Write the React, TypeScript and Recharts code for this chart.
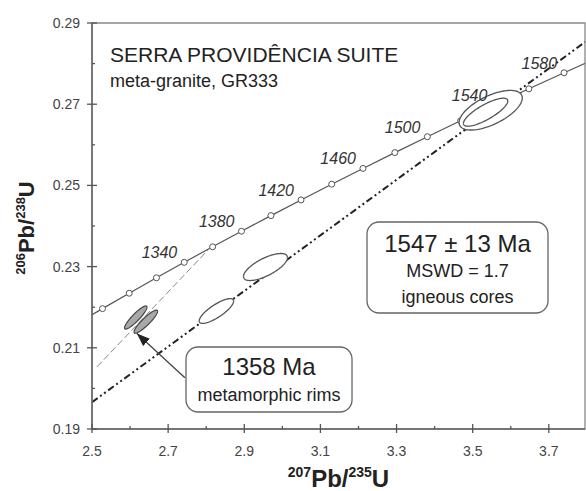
// @ts-nocheck
import React from 'react'
import { ComposedChart, Line, Area, XAxis, YAxis, ReferenceArea, LabelList } from 'recharts'

const FONT = '"Liberation Sans", Arial, Helvetica, sans-serif'
const INK = '#222'
const GREY = '#555'

// concordia points, every 20 Ma
const concordiaAge = [1260, 1280, 1300, 1320, 1340, 1360, 1380, 1400, 1420, 1440, 1460, 1480, 1500, 1520, 1540, 1560, 1580, 1600]
const concordiaX = [2.45876, 2.52757, 2.59774, 2.6693, 2.74229, 2.81674, 2.89266, 2.9701, 3.04907, 3.12961, 3.21176, 3.29554, 3.38099, 3.46814, 3.55702, 3.64767, 3.74012, 3.83441]
const concordiaY = [0.21587, 0.21965, 0.22344, 0.22724, 0.23105, 0.23488, 0.23871, 0.24256, 0.24642, 0.2503, 0.25418, 0.25808, 0.26199, 0.26591, 0.26984, 0.27379, 0.27775, 0.28172]
const labelledAges = [1340, 1380, 1420, 1460, 1500, 1540, 1580]

// discordia lines
const coresLineX = [2.5, 3.795]
const coresLineY = [0.1966, 0.2853]
const rimsLineX = [2.513, 2.809]
const rimsLineY = [0.2053, 0.2345]
const arrowX = [2.744, 2.618]
const arrowY = [0.2026, 0.2135]

// error ellipses: centre, half x-extent, half y-extent, correlation
const coreEllipses = [
  { cx: 3.5473, cy: 0.26852, w: 0.083, h: 0.00488, rho: 0.62 },
  { cx: 3.5339, cy: 0.26803, w: 0.0583, h: 0.00345, rho: 0.8 },
  { cx: 2.9557, cy: 0.2299, w: 0.0578, h: 0.00333, rho: 0.7 },
  { cx: 2.8268, cy: 0.21906, w: 0.0452, h: 0.00305, rho: 0.8 },
]
const rimEllipses = [
  { cx: 2.615, cy: 0.21746, w: 0.0295, h: 0.00285, rho: 0.9 },
  { cx: 2.6413, cy: 0.21643, w: 0.031, h: 0.00285, rho: 0.9 },
]

const xMajorTicks = [2.5, 2.7, 2.9, 3.1, 3.3, 3.5, 3.7]
const xMinorTicks = [2.6, 2.8, 3.0, 3.2, 3.4, 3.6]
const yMajorTicks = [0.19, 0.21, 0.23, 0.25, 0.27, 0.29]
const yMinorTicks = [0.2, 0.22, 0.24, 0.26, 0.28]

const concordiaRows = concordiaAge.map((age, i) => ({
  x: concordiaX[i],
  y: concordiaY[i],
  label: labelledAges.includes(age) ? String(age) : '',
}))
const toRows = (xs, ys) => xs.map((x, i) => ({ x, y: ys[i] }))

// outline of an ellipse as a band (low/high) over x
function ellipseRows(e, n = 60) {
  const rows = []
  for (let i = 0; i <= n; i++) {
    const t = Math.cos(Math.PI * (1 - i / n))
    const mid = e.cy + e.rho * e.h * t
    const half = e.h * Math.sqrt(1 - e.rho * e.rho) * Math.sqrt(Math.max(0, 1 - t * t))
    rows.push({ x: e.cx + e.w * t, band: [mid - half, mid + half] })
  }
  return rows
}

const XTick = ({ x, y, payload }) => {
  const major = xMajorTicks.includes(payload.value)
  return (
    <g>
      <line x1={x} x2={x} y1={major ? y - 5 : y - 3} y2={major ? y + 4 : y} stroke={GREY} strokeWidth={1.3} />
      {major && (
        <text x={x} y={y + 27} textAnchor="middle" fontSize={14} fill="#444" fontFamily={FONT}>
          {payload.value.toFixed(1)}
        </text>
      )}
    </g>
  )
}

const YTick = ({ x, y, payload }) => {
  const major = yMajorTicks.includes(payload.value)
  return (
    <g>
      <line x1={major ? x - 5 : x} x2={major ? x + 5 : x + 3} y1={y} y2={y} stroke={GREY} strokeWidth={1.3} />
      {major && (
        <text x={x - 12} y={y + 5} textAnchor="end" fontSize={14} fill="#444" fontFamily={FONT}>
          {payload.value.toFixed(2)}
        </text>
      )}
    </g>
  )
}

const XTitle = ({ viewBox }) => {
  const cx = viewBox.x + viewBox.width / 2
  const by = viewBox.y + 58
  return (
    <text x={cx} y={by} textAnchor="middle" fontWeight="bold" fill={INK} fontFamily={FONT}>
      <tspan fontSize={14} dy={-10}>207</tspan>
      <tspan fontSize={24} dy={10}>Pb/</tspan>
      <tspan fontSize={14} dy={-10}>235</tspan>
      <tspan fontSize={24} dy={10}>U</tspan>
    </text>
  )
}

const YTitle = ({ viewBox }) => {
  const bx = viewBox.x + 34
  const cy = viewBox.y + viewBox.height / 2 + 2
  return (
    <text x={bx} y={cy} transform={`rotate(-90, ${bx}, ${cy})`} textAnchor="middle" fontWeight="bold" fill={INK} fontFamily={FONT}>
      <tspan fontSize={13} dy={-9}>206</tspan>
      <tspan fontSize={22} dy={9}>Pb/</tspan>
      <tspan fontSize={13} dy={-9}>238</tspan>
      <tspan fontSize={22} dy={9}>U</tspan>
    </text>
  )
}

const AgeLabel = ({ x, y, value }) => {
  if (!value) return null
  return (
    <text x={x - 7} y={y - 4} textAnchor="end" fontSize={16} fontStyle="italic" fill="#333" fontFamily={FONT}>
      {value}
    </text>
  )
}

const makeBox = (lines) => (p) => (
  <g>
    <rect x={p.x} y={p.y} width={p.width} height={p.height} rx={12} ry={12} fill="#fff" stroke="#666" strokeWidth={1.3} />
    {lines.map((l, i) => (
      <text key={i} x={p.x + p.width / 2} y={p.y + l.dy} textAnchor="middle" fontSize={l.size} fill={INK} fontFamily={FONT}>
        {l.text}
      </text>
    ))}
  </g>
)

const coresBox = makeBox([
  { text: '1547 ± 13 Ma', size: 24, dy: 30 },
  { text: 'MSWD = 1.7', size: 18, dy: 55 },
  { text: 'igneous cores', size: 18, dy: 81 },
])
const rimsBox = makeBox([
  { text: '1358 Ma', size: 24, dy: 28 },
  { text: 'metamorphic rims', size: 18, dy: 54 },
])

export default function App() {
  return (
    <div style={{ position: 'absolute', left: 0, top: 0, width: 586, height: 491, background: '#fff' }}>
      <ComposedChart width={586} height={491} margin={{ top: 23, right: 1, bottom: 0, left: 0 }}>
        <XAxis
          type="number"
          dataKey="x"
          domain={[2.5, 3.795]}
          allowDataOverflow
          ticks={[...xMajorTicks, ...xMinorTicks].sort((a, b) => a - b)}
          interval={0}
          tick={<XTick />}
          tickLine={false}
          tickSize={0}
          tickMargin={0}
          axisLine={{ stroke: '#666', strokeWidth: 1.5 }}
          height={62}
          label={XTitle}
        />
        <YAxis
          type="number"
          domain={[0.19, 0.29]}
          allowDataOverflow
          ticks={[...yMajorTicks, ...yMinorTicks].sort((a, b) => a - b)}
          interval={0}
          tick={<YTick />}
          tickLine={false}
          tickSize={0}
          tickMargin={0}
          axisLine={{ stroke: '#666', strokeWidth: 1.5 }}
          width={92}
          label={YTitle}
        />
        <ReferenceArea x1={2.5} x2={3.795} y1={0.19} y2={0.29} fill="none" stroke="#888" strokeWidth={1.3} />

        <Line data={concordiaRows} dataKey="y" type="linear" stroke={GREY} strokeWidth={1.2}
          dot={{ r: 3, fill: '#fff', stroke: GREY, strokeWidth: 1 }} isAnimationActive={false}>
          <LabelList dataKey="label" content={AgeLabel} />
        </Line>
        <Line data={toRows(rimsLineX, rimsLineY)} dataKey="y" type="linear" stroke="#888" strokeWidth={1}
          strokeDasharray="7 3" dot={false} isAnimationActive={false} />
        <Line data={toRows(coresLineX, coresLineY)} dataKey="y" type="linear" stroke={INK} strokeWidth={2}
          strokeDasharray="7 3 2 3 2 3" dot={false} isAnimationActive={false} />

        {coreEllipses.map((e, i) => (
          <Area key={'c' + i} zIndex={1100 + i} data={ellipseRows(e)} dataKey="band" type="linear" fill="#fff" fillOpacity={1}
            stroke={GREY} strokeWidth={1.3} dot={false} activeDot={false} isAnimationActive={false} />
        ))}
        {rimEllipses.map((e, i) => (
          <Area key={'r' + i} zIndex={1110 + i} data={ellipseRows(e)} dataKey="band" type="linear" fill="#a8a8a8" fillOpacity={1}
            stroke="#444" strokeWidth={1.2} dot={false} activeDot={false} isAnimationActive={false} />
        ))}

        <ReferenceArea zIndex={1120} x1={3.2224} x2={3.6978} y1={0.21857} y2={0.24099} shape={coresBox} />
        <ReferenceArea zIndex={1120} x1={2.7469} x2={3.183} y1={0.19419} y2={0.2102} shape={rimsBox} />

        <Line zIndex={1130} data={toRows(arrowX, arrowY)} dataKey="y" type="linear" stroke="#444" strokeWidth={1.3}
          markerEnd="url(#arrowHead)" dot={false} isAnimationActive={false} />
      </ComposedChart>

      <svg width={586} height={491} style={{ position: 'absolute', left: 0, top: 0, pointerEvents: 'none' }}>
        <defs>
          <marker id="arrowHead" markerUnits="userSpaceOnUse" markerWidth={14} markerHeight={10}
            refX={13} refY={5} orient="auto">
            <path d="M0,0 L13,5 L0,10 z" fill="#222" />
          </marker>
        </defs>
        <text x={110} y={62} fontSize={21} fill={INK} fontFamily={FONT}>SERRA PROVIDÊNCIA SUITE</text>
        <text x={110} y={87} fontSize={18} fill={INK} fontFamily={FONT}>meta-granite, GR333</text>
      </svg>
    </div>
  )
}
